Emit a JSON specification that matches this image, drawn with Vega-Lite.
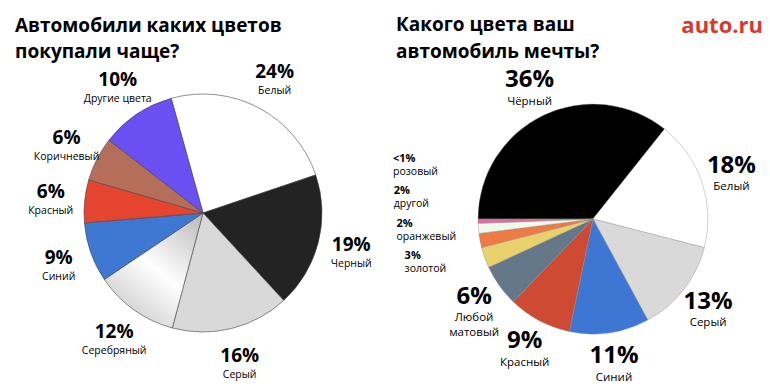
{
  "$schema": "https://vega.github.io/schema/vega-lite/v6.json",
  "background": "white",
  "padding": {"left": 15, "top": 15, "right": 5, "bottom": 0},
  "bounds": "flush",
  "spacing": 32,
  "config": {"view": {"stroke": null}, "font": "Open Sans", "text": {"font": "Open Sans"}},
  "title": {"text": "auto.ru", "anchor": "end", "color": "#d63a2f", "fontSize": 22, "fontWeight": "bold", "offset": -22, "font": "Open Sans"},
  "resolve": {"scale": {"color": "independent", "theta": "independent"}},
  "hconcat": [
    {
      "width": 376,
      "height": 278,
      "title": {"text": ["Автомобили каких цветов", "покупали чаще?"], "anchor": "start", "frame": "group", "fontSize": 19, "fontWeight": "bold", "lineHeight": 26, "offset": 1, "color": "#000000", "font": "Open Sans"},
      "data": {"values": [
        {"name": "Белый", "pct": "24%", "v": 24.1},
        {"name": "Черный", "pct": "19%", "v": 18.3},
        {"name": "Серый", "pct": "16%", "v": 16.0},
        {"name": "Серебряный", "pct": "12%", "v": 11.4},
        {"name": "Синий", "pct": "9%", "v": 8.1},
        {"name": "Красный", "pct": "6%", "v": 5.8},
        {"name": "Коричневый", "pct": "6%", "v": 6.0},
        {"name": "Другие цвета", "pct": "10%", "v": 10.2}
      ]},
      "transform": [{"window": [{"op": "row_number", "as": "rn"}]}],
      "encoding": {
        "theta": {"field": "v", "type": "quantitative", "stack": true, "scale": {"range": [-0.2705, 6.0127]}},
        "order": {"field": "rn", "type": "quantitative"}
      },
      "layer": [
        {
          "mark": {"type": "arc", "radius": 119, "stroke": "#444444", "strokeWidth": 0.6},
          "encoding": {
            "color": {
              "condition": {"test": "datum.name === 'Серебряный'", "value": {"gradient": "linear", "x1": 1, "y1": 0, "x2": 0.3, "y2": 1, "stops": [{"offset": 0, "color": "#b8b8b8"}, {"offset": 0.55, "color": "#ffffff"}, {"offset": 1, "color": "#cccccc"}]}},
              "field": "name", "type": "nominal", "legend": null,
              "scale": {"domain": ["Белый", "Черный", "Серый", "Серебряный", "Синий", "Красный", "Коричневый", "Другие цвета"],
                        "range": ["#ffffff", "#232323", "#d9d9d9", "#e0e0e0", "#3e78d2", "#e5442f", "#b46e5a", "#6a4ff2"]}
            }
          }
        },
        {
          "mark": {"type": "text", "radius": 153, "fontSize": 19, "fontWeight": "bold", "align": "center", "baseline": "alphabetic", "color": "#000000"},
          "encoding": {"text": {"field": "pct", "type": "nominal"}}
        },
        {
          "mark": {"type": "text", "radius": 153, "fontSize": 10.5, "dy": 16, "align": "center", "baseline": "alphabetic", "color": "#000000"},
          "encoding": {"text": {"field": "name", "type": "nominal"}}
        }
      ]
    },
    {
      "width": 340,
      "height": 290,
      "title": {"text": ["Какого цвета ваш", "автомобиль мечты?"], "anchor": "start", "frame": "group", "fontSize": 19, "fontWeight": "bold", "lineHeight": 27, "offset": 1, "dx": -27, "dy": -5, "color": "#000000", "font": "Open Sans"},
      "data": {"values": [
        {"name": "Чёрный", "pct": "36%", "v": 35.7},
        {"name": "Белый", "pct": "18%", "v": 18.3},
        {"name": "Серый", "pct": "13%", "v": 13.1},
        {"name": "Синий", "pct": "11%", "v": 11.2},
        {"name": "Красный", "pct": "9%", "v": 8.9},
        {"name": "Любой\nматовый", "pct": "6%", "v": 5.9},
        {"name": "золотой", "pct": "3%", "v": 2.9},
        {"name": "оранжевый", "pct": "2%", "v": 2.0},
        {"name": "другой", "pct": "2%", "v": 1.4},
        {"name": "розовый", "pct": "<1%", "v": 0.6}
      ]},
      "transform": [
        {"window": [{"op": "row_number", "as": "rn"}]},
        {"stack": "v", "groupby": [], "sort": [{"field": "rn", "order": "ascending"}], "as": ["s0", "s1"]},
        {"calculate": "(datum.s0 + datum.s1) / 2", "as": "mid"}
      ],
      "layer": [
        {
          "mark": {"type": "arc", "radius": 115, "stroke": "#8a8a8a", "strokeWidth": 0.4},
          "encoding": {
            "theta": {"field": "s0", "type": "quantitative", "scale": {"range": [-1.5708, 4.7124], "domain": [0, 100]}},
            "theta2": {"field": "s1"},
            "color": {
              "field": "name", "type": "nominal", "legend": null,
              "scale": {"domain": ["Чёрный", "Белый", "Серый", "Синий", "Красный", "Любой\nматовый", "золотой", "оранжевый", "другой", "розовый"],
                        "range": ["#000000", "#ffffff", "#d9d9d9", "#3d77d3", "#cf4a33", "#65788a", "#e9d16d", "#f07a44", "#eefbea", "#e46aa0"]}
            }
          }
        },
        {
          "transform": [{"filter": "datum.v >= 5"}],
          "mark": {"type": "text", "radius": 146, "fontSize": 24, "fontWeight": "bold", "align": "center", "baseline": "alphabetic", "color": "#000000"},
          "encoding": {"theta": {"field": "mid", "type": "quantitative"}, "text": {"field": "pct", "type": "nominal"}}
        },
        {
          "transform": [{"filter": "datum.v >= 5"}],
          "mark": {"type": "text", "radius": 146, "fontSize": 11.5, "dy": 17.5, "lineBreak": "\n", "lineHeight": 15, "align": "center", "baseline": "alphabetic", "color": "#000000"},
          "encoding": {"theta": {"field": "mid", "type": "quantitative"}, "text": {"field": "name", "type": "nominal"}}
        },
        {
          "transform": [{"filter": "datum.v < 5"}],
          "mark": {"type": "text", "radius": 200, "fontSize": 11, "fontWeight": "bold", "align": "left", "baseline": "alphabetic", "color": "#000000",
                   "dy": {"expr": "datum.v < 1 ? -61 : datum.v < 1.7 ? -41 : datum.v < 2.5 ? -29 : -27"}},
          "encoding": {"theta": {"field": "mid", "type": "quantitative"}, "text": {"field": "pct", "type": "nominal"}}
        },
        {
          "transform": [{"filter": "datum.v < 5"}],
          "mark": {"type": "text", "radius": 200, "fontSize": 10.5, "align": "left", "baseline": "alphabetic", "color": "#000000",
                   "dy": {"expr": "datum.v < 1 ? -48 : datum.v < 1.7 ? -28 : datum.v < 2.5 ? -16 : -14"}},
          "encoding": {"theta": {"field": "mid", "type": "quantitative"}, "text": {"field": "name", "type": "nominal"}}
        }
      ]
    }
  ]
}
